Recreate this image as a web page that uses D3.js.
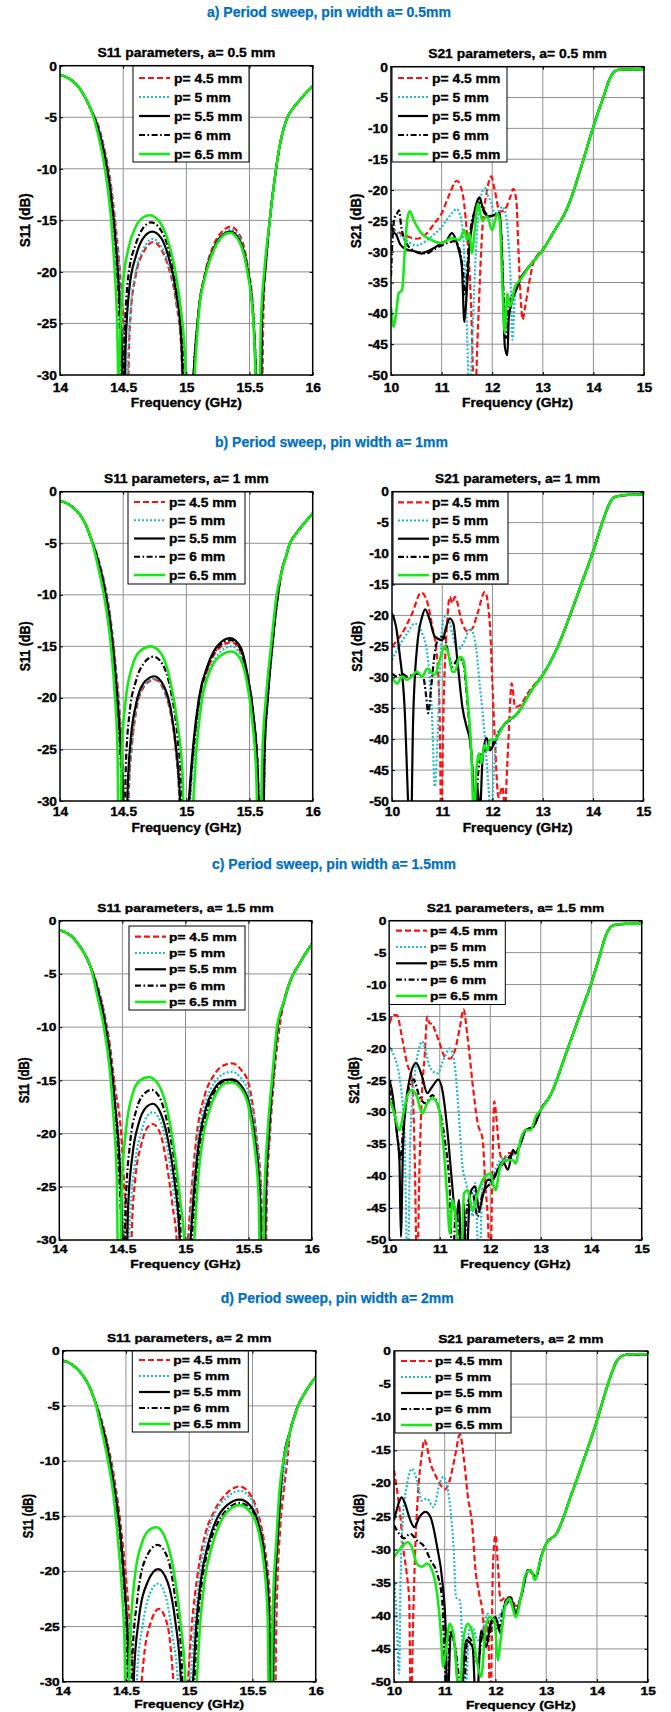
<!DOCTYPE html>
<html>
<head>
<meta charset="utf-8">
<script src="https://cdn.jsdelivr.net/npm/d3@7"></script>
<style>
  body { margin: 0; background: #fff; }
  svg text { font-family: "Liberation Sans", Arial, Helvetica, sans-serif; font-weight: bold; fill: #000; stroke: #000; stroke-width: 0.35px; }
  svg text.header { fill: #0070c0; stroke: #0070c0; stroke-width: 0.25px; }
</style>
</head>
<body>
<svg id="vis"></svg>
<script>
const W = 671;
const H = 1712;
const FONT = '"Liberation Sans", Arial, Helvetica, sans-serif';
const GRID = "#909090";

// ---- tick values and labels ----
const S11_X_TICKS = [14, 14.5, 15, 15.5, 16];
const S11_Y_TICKS = [0, -5, -10, -15, -20, -25, -30];
const S21_X_TICKS = [10, 11, 12, 13, 14, 15];
const S21_Y_TICKS = [0, -5, -10, -15, -20, -25, -30, -35, -40, -45, -50];
const PERIOD_LABELS = ["p= 4.5 mm", "p= 5 mm", "p= 5.5 mm", "p= 6 mm", "p= 6.5 mm"];
const PIN_WIDTHS = ["0.5", "1", "1.5", "2"];
const SECTION_TITLES = [
    "a) Period sweep, pin width a= 0.5mm",
    "b) Period sweep, pin width a= 1mm",
    "c) Period sweep, pin width a= 1.5mm",
    "d) Period sweep, pin width a= 2mm"
];

// ---- S11, a = 0.5 mm  [GHz, dB] ----
const s11aHead = [[14,-0.9],[14.05,-1.1],[14.1,-1.5],[14.15,-2.1],[14.2,-3.1],[14.25,-4.4]];
const s11aTail = [[15.74,-7.7],[15.77,-6.1],[15.8,-5.0],[15.84,-4.2],[15.9,-3.3],[15.95,-2.6],[16,-2.0]];
const s11a45 = [[14.3,-5.7],[14.35,-8.0],[14.4,-11.3],[14.44,-15.5],[14.48,-21],[14.51,-28],[14.53,-40],[14.545,-28],[14.56,-24],[14.6,-20.3],[14.66,-18.1],[14.74,-17.1],[14.8,-17.8],[14.86,-19.6],[14.92,-23],[14.96,-27.5],[14.99,-40],[15.07,-28],[15.1,-23.5],[15.15,-20],[15.22,-17.3],[15.3,-15.9],[15.35,-15.6],[15.42,-16.4],[15.48,-19],[15.53,-24],[15.57,-35],[15.59,-40],[15.61,-24],[15.63,-19],[15.66,-15],[15.71,-10]];
const s11a50 = [[14.3,-5.8],[14.35,-8.2],[14.4,-11.6],[14.44,-16],[14.48,-21.8],[14.505,-29],[14.525,-40],[14.54,-28],[14.56,-23.5],[14.6,-20],[14.66,-17.8],[14.735,-16.8],[14.8,-17.5],[14.86,-19.3],[14.92,-22.7],[14.96,-27],[14.99,-40],[15.07,-28],[15.1,-23.6],[15.15,-20.2],[15.22,-17.6],[15.3,-16.2],[15.35,-15.9],[15.42,-16.6],[15.48,-19.2],[15.53,-24],[15.57,-35],[15.585,-40],[15.605,-24],[15.63,-19],[15.66,-15],[15.71,-10]];
const s11a55 = [[14.3,-6.0],[14.35,-8.5],[14.4,-12.2],[14.44,-17],[14.47,-22.5],[14.49,-28],[14.505,-40],[14.52,-27],[14.55,-21.5],[14.6,-18.5],[14.66,-16.7],[14.73,-16.1],[14.8,-16.7],[14.86,-18.6],[14.92,-22],[14.96,-26.5],[15.0,-40],[15.07,-27.5],[15.1,-23.4],[15.15,-20.2],[15.22,-17.6],[15.3,-16.3],[15.35,-16.1],[15.42,-16.9],[15.48,-19.5],[15.53,-24.5],[15.565,-35],[15.58,-40],[15.6,-24],[15.63,-19],[15.66,-15],[15.71,-10]];
const s11a60 = [[14.3,-6.1],[14.35,-8.8],[14.4,-12.6],[14.44,-17.8],[14.465,-23],[14.48,-28.5],[14.495,-40],[14.51,-27],[14.54,-20.5],[14.6,-17.3],[14.66,-15.7],[14.72,-15.2],[14.79,-15.8],[14.86,-17.8],[14.92,-21.3],[14.97,-26.5],[15.005,-40],[15.07,-27.5],[15.1,-23.5],[15.15,-20.3],[15.22,-17.8],[15.3,-16.4],[15.35,-16.2],[15.42,-17],[15.48,-19.6],[15.53,-24.5],[15.565,-35],[15.575,-40],[15.6,-24],[15.63,-19],[15.66,-15],[15.71,-10]];
const s11a65 = [[14.3,-6.6],[14.35,-9.6],[14.4,-14.3],[14.43,-19.3],[14.45,-24],[14.465,-31],[14.48,-25],[14.5,-21],[14.54,-17.8],[14.6,-15.6],[14.66,-14.7],[14.71,-14.5],[14.78,-15],[14.85,-16.8],[14.91,-19.8],[14.96,-24],[14.99,-28.5],[15.015,-40],[15.075,-28],[15.1,-23.8],[15.15,-20.4],[15.22,-17.8],[15.3,-16.4],[15.345,-16.2],[15.42,-17.1],[15.48,-19.8],[15.53,-24.8],[15.56,-35],[15.57,-40],[15.59,-25],[15.62,-19.5],[15.66,-15],[15.71,-10]];

// ---- S11, a = 1 mm ----
const s11bHead = [[14,-0.9],[14.05,-1.1],[14.1,-1.5],[14.15,-2.1],[14.2,-3.1],[14.25,-4.7]];
const s11bTail = [[15.75,-8.0],[15.79,-6.2],[15.82,-5.0],[15.86,-4.2],[15.93,-3.1],[16,-2.1]];
const s11b45 = [[14.3,-6.4],[14.35,-8.8],[14.4,-12.3],[14.44,-16.8],[14.48,-23],[14.505,-30],[14.525,-42],[14.545,-29],[14.57,-24.5],[14.6,-21.5],[14.66,-19],[14.75,-18.2],[14.82,-19.2],[14.88,-21.8],[14.92,-25.5],[14.945,-30],[14.97,-42],[15.025,-30],[15.06,-24.5],[15.1,-20.5],[15.17,-17.2],[15.25,-15.3],[15.36,-14.6],[15.43,-15.6],[15.48,-18],[15.52,-21.5],[15.555,-26.5],[15.585,-42],[15.615,-25],[15.64,-20],[15.675,-15],[15.72,-10]];
const s11b50 = [[14.3,-6.4],[14.35,-8.9],[14.4,-12.4],[14.44,-17],[14.48,-23.2],[14.505,-30],[14.525,-42],[14.545,-29],[14.57,-24.3],[14.6,-21.3],[14.66,-18.9],[14.75,-18.1],[14.82,-19.1],[14.88,-21.7],[14.92,-25.3],[14.945,-30],[14.97,-42],[15.03,-30],[15.065,-24.8],[15.1,-21],[15.17,-17.8],[15.25,-15.8],[15.36,-15.0],[15.43,-15.9],[15.48,-18.3],[15.52,-21.8],[15.555,-26.8],[15.58,-42],[15.61,-25],[15.64,-20],[15.675,-15],[15.72,-10]];
const s11b55 = [[14.3,-6.6],[14.35,-9.2],[14.4,-13],[14.44,-17.8],[14.48,-24.8],[14.5,-30],[14.515,-42],[14.535,-29],[14.56,-24],[14.6,-20.7],[14.66,-18.6],[14.745,-17.9],[14.82,-18.8],[14.88,-21.3],[14.92,-25],[14.95,-30],[14.97,-42],[15.02,-30],[15.055,-24.5],[15.1,-20],[15.17,-16.8],[15.25,-14.9],[15.345,-14.2],[15.43,-15.1],[15.48,-17.5],[15.53,-21.5],[15.565,-27],[15.6,-42],[15.62,-25],[15.645,-20],[15.68,-15],[15.725,-10]];
const s11b60 = [[14.3,-6.7],[14.35,-9.4],[14.4,-13.3],[14.44,-18.3],[14.47,-23.8],[14.49,-30],[14.505,-42],[14.52,-27],[14.55,-21.5],[14.6,-18.4],[14.66,-16.7],[14.74,-16.0],[14.81,-16.7],[14.88,-19.5],[14.93,-23.8],[14.965,-30],[14.985,-42],[15.03,-29],[15.06,-24.5],[15.1,-20.3],[15.17,-17],[15.25,-15.1],[15.35,-14.4],[15.43,-15.3],[15.48,-17.7],[15.53,-21.7],[15.565,-27],[15.595,-42],[15.62,-25],[15.645,-20],[15.68,-15],[15.725,-10]];
const s11b65 = [[14.3,-7.2],[14.35,-10.2],[14.4,-14.6],[14.43,-19],[14.455,-25],[14.47,-42],[14.49,-25],[14.52,-20.2],[14.57,-17],[14.63,-15.5],[14.72,-15.0],[14.8,-15.7],[14.87,-18.2],[14.93,-22.5],[14.97,-27.5],[14.995,-42],[15.055,-30],[15.08,-25],[15.12,-20.5],[15.18,-17.6],[15.26,-16],[15.36,-15.5],[15.43,-16.3],[15.48,-18.5],[15.52,-22],[15.555,-28],[15.575,-42],[15.6,-26],[15.63,-20],[15.67,-15],[15.715,-10]];

// ---- S11, a = 1.5 mm ----
const s11cHead = [[14,-0.9],[14.05,-1.1],[14.1,-1.5],[14.15,-2.2],[14.2,-3.1],[14.25,-4.4]];
const s11cTail = [[15.78,-7.6],[15.82,-6.0],[15.855,-5.0],[15.9,-4.1],[15.95,-3.1],[16,-2.2]];
const s11c45 = [[14.3,-6.0],[14.35,-8.3],[14.4,-11.6],[14.44,-15.5],[14.49,-20],[14.515,-25],[14.535,-30],[14.555,-42],[14.575,-29],[14.6,-24.5],[14.65,-21],[14.7,-19.4],[14.74,-19.1],[14.8,-20],[14.85,-22.8],[14.9,-27],[14.93,-30],[14.96,-42],[15.02,-30],[15.05,-25],[15.09,-20],[15.15,-16.5],[15.22,-14.6],[15.3,-13.6],[15.37,-13.4],[15.44,-14],[15.5,-15.3],[15.56,-20],[15.6,-25.5],[15.625,-42],[15.645,-26],[15.67,-20],[15.7,-15],[15.745,-10]];
const s11c50 = [[14.3,-6.1],[14.35,-8.5],[14.4,-12],[14.44,-16.3],[14.48,-22],[14.51,-29],[14.535,-42],[14.56,-28],[14.6,-22.8],[14.65,-19.8],[14.7,-18.3],[14.74,-18.0],[14.8,-18.8],[14.86,-21.6],[14.91,-25.7],[14.95,-30],[14.97,-42],[15.03,-30],[15.06,-25],[15.1,-20.3],[15.16,-17],[15.23,-15.2],[15.3,-14.4],[15.37,-14.2],[15.44,-14.8],[15.5,-16.2],[15.56,-20.3],[15.6,-26],[15.62,-42],[15.64,-26],[15.665,-20],[15.695,-15],[15.735,-10]];
const s11c55 = [[14.3,-6.3],[14.35,-8.8],[14.4,-12.5],[14.44,-17],[14.48,-23],[14.5,-29],[14.52,-42],[14.545,-27],[14.58,-22],[14.63,-19],[14.69,-17.5],[14.74,-17.2],[14.8,-18],[14.86,-20.5],[14.91,-24.2],[14.955,-30],[14.975,-42],[15.04,-30],[15.07,-25],[15.11,-20.5],[15.17,-17.3],[15.24,-15.6],[15.3,-15.0],[15.37,-14.9],[15.44,-15.5],[15.5,-17],[15.55,-20.5],[15.59,-26],[15.615,-42],[15.635,-26],[15.66,-20],[15.69,-15],[15.73,-10]];
const s11c60 = [[14.3,-6.4],[14.35,-9],[14.4,-12.8],[14.44,-17.5],[14.47,-23],[14.49,-29],[14.505,-42],[14.525,-27],[14.56,-21],[14.61,-17.8],[14.67,-16.3],[14.73,-15.9],[14.79,-16.5],[14.86,-19.2],[14.92,-23.5],[14.96,-29],[14.985,-42],[15.05,-30],[15.08,-25],[15.12,-20.7],[15.18,-17.5],[15.25,-15.7],[15.3,-15.1],[15.37,-15.0],[15.44,-15.6],[15.5,-17.2],[15.55,-20.7],[15.59,-26],[15.61,-42],[15.635,-26],[15.66,-20],[15.69,-15],[15.73,-10]];
const s11c65 = [[14.3,-7.0],[14.35,-9.8],[14.4,-14],[14.43,-18.5],[14.455,-24],[14.475,-42],[14.495,-25],[14.53,-19.5],[14.58,-16.3],[14.64,-15],[14.71,-14.7],[14.78,-15.3],[14.85,-17.5],[14.91,-21.5],[14.96,-26.5],[14.99,-30],[15.01,-42],[15.07,-30],[15.095,-25],[15.13,-21],[15.19,-17.8],[15.26,-15.9],[15.31,-15.3],[15.37,-15.2],[15.44,-15.8],[15.5,-17.5],[15.545,-21],[15.58,-26],[15.6,-42],[15.625,-26],[15.65,-20],[15.685,-15],[15.725,-10]];

// ---- S11, a = 2 mm ----
const s11dHead = [[14,-0.9],[14.05,-1.1],[14.1,-1.5],[14.15,-2.1],[14.2,-3.0],[14.25,-4.4]];
const s11dTail = [[15.8,-7.2],[15.83,-6.0],[15.86,-5.0],[15.91,-3.9],[15.96,-3.0],[16,-2.4]];
const s11d45 = [[14.3,-6.0],[14.35,-8.2],[14.4,-11],[14.45,-15],[14.5,-20.5],[14.54,-26.5],[14.57,-33],[14.59,-42],[14.615,-32],[14.64,-28],[14.7,-24.5],[14.76,-23.4],[14.81,-24.2],[14.85,-26.5],[14.875,-30],[14.93,-42],[14.99,-30],[15.02,-25],[15.07,-20],[15.13,-16.5],[15.2,-14.5],[15.3,-12.9],[15.4,-12.3],[15.48,-13],[15.55,-15],[15.6,-18],[15.64,-23],[15.665,-42],[15.69,-24],[15.72,-16],[15.75,-12.5],[15.775,-10]];
const s11d50 = [[14.3,-6.1],[14.35,-8.4],[14.4,-11.4],[14.45,-15.6],[14.49,-21],[14.53,-28],[14.56,-42],[14.59,-29],[14.63,-25],[14.69,-22],[14.755,-21.1],[14.82,-22.5],[14.87,-26],[14.91,-30],[14.95,-42],[15.01,-30],[15.04,-25],[15.08,-20.5],[15.14,-16.8],[15.2,-14.8],[15.3,-13.3],[15.4,-12.7],[15.48,-13.3],[15.55,-15.4],[15.6,-18.5],[15.635,-23],[15.655,-42],[15.68,-23],[15.71,-16],[15.74,-12.2],[15.765,-10]];
const s11d55 = [[14.3,-6.3],[14.35,-8.6],[14.4,-11.8],[14.45,-16],[14.49,-21.5],[14.52,-28],[14.54,-42],[14.565,-29],[14.6,-24.5],[14.67,-21],[14.755,-19.8],[14.83,-21],[14.89,-24.5],[14.935,-30],[14.96,-42],[15.03,-30],[15.055,-25],[15.09,-21],[15.15,-17.5],[15.22,-15.2],[15.3,-14],[15.4,-13.5],[15.48,-14],[15.55,-15.8],[15.6,-19],[15.63,-23.5],[15.65,-42],[15.67,-24],[15.7,-17],[15.725,-12.5],[15.745,-10]];
const s11d60 = [[14.3,-6.4],[14.35,-8.8],[14.4,-12.1],[14.45,-16.5],[14.48,-20.5],[14.51,-27],[14.53,-42],[14.55,-28],[14.59,-22.5],[14.65,-19],[14.75,-17.6],[14.83,-18.8],[14.89,-22.5],[14.94,-28],[14.97,-42],[15.04,-30],[15.065,-25],[15.1,-21],[15.16,-17.6],[15.23,-15.5],[15.3,-14.4],[15.4,-13.8],[15.48,-14.3],[15.55,-16],[15.6,-19.2],[15.63,-23.5],[15.645,-42],[15.665,-24],[15.695,-17],[15.72,-12.5],[15.745,-10]];
const s11d65 = [[14.3,-6.8],[14.35,-9.5],[14.4,-13],[14.44,-17.5],[14.47,-22],[14.49,-27],[14.505,-42],[14.53,-27],[14.57,-20.5],[14.63,-17.3],[14.69,-16.2],[14.74,-16.0],[14.8,-16.7],[14.87,-19.5],[14.93,-24.5],[14.97,-30],[14.985,-42],[15.06,-30],[15.085,-25],[15.12,-21],[15.18,-17.7],[15.25,-15.5],[15.32,-14.4],[15.4,-14.0],[15.48,-14.6],[15.55,-16.5],[15.59,-19.3],[15.62,-24],[15.64,-42],[15.66,-24],[15.69,-17],[15.715,-12.5],[15.745,-10]];

// ---- S21, a = 0.5 mm ----
const s21aTail = [[12.55,-34.6],[12.75,-32.2],[13,-29.7],[13.2,-27],[13.5,-22.6],[13.75,-16.5],[13.9,-12.4],[14,-9.7],[14.1,-7.2],[14.2,-4.9],[14.3,-2.4],[14.4,-0.9],[14.5,-0.5],[14.7,-0.45],[15,-0.4]];
const s21a45 = [[10,-26],[10.1,-26.6],[10.2,-27.1],[10.35,-27.6],[10.5,-27.9],[10.7,-27.1],[10.85,-25.5],[11,-23.8],[11.15,-20.8],[11.3,-18.5],[11.4,-20],[11.5,-27],[11.58,-38],[11.65,-55],[11.72,-42],[11.8,-27],[11.9,-20],[11.98,-17.8],[12.05,-20],[12.15,-23.5],[12.25,-23.2],[12.35,-21.3],[12.42,-19.8],[12.48,-22],[12.52,-30],[12.57,-38.5],[12.6,-41],[12.65,-39],[12.72,-35.5],[12.8,-32.2],[12.9,-30.5],[13,-29.7]];
const s21a50 = [[10,-26],[10.1,-26.8],[10.25,-27.8],[10.5,-29],[10.7,-28.2],[10.85,-27.2],[11,-26],[11.15,-24.3],[11.3,-23.1],[11.38,-24.5],[11.43,-28],[11.47,-35],[11.51,-45],[11.55,-55],[11.6,-46],[11.65,-35],[11.7,-27],[11.76,-22],[11.82,-20],[11.86,-19.7],[11.92,-21],[11.97,-21.8],[12.05,-23.8],[12.12,-23.5],[12.2,-22.7],[12.27,-24],[12.32,-28],[12.36,-34],[12.4,-44.3],[12.45,-37],[12.5,-35.5]];
const s21a55 = [[10,-25.5],[10.05,-26.8],[10.1,-27.2],[10.18,-28.8],[10.3,-29.6],[10.45,-29.9],[10.6,-30.3],[10.7,-30],[10.85,-29.4],[11,-28.6],[11.1,-28.2],[11.2,-27],[11.27,-27.8],[11.33,-29.5],[11.4,-32.4],[11.45,-41.4],[11.5,-36.2],[11.55,-29.2],[11.62,-24.9],[11.7,-21.9],[11.75,-21.2],[11.8,-22.5],[11.85,-23.8],[11.95,-24.3],[12.05,-24],[12.15,-23.8],[12.2,-32.4],[12.25,-45.4],[12.3,-46.8],[12.33,-40.5],[12.4,-37.8],[12.5,-35.7]];
const s21a60 = [[10,-34],[10.03,-28],[10.07,-24.5],[10.12,-23.8],[10.16,-23.3],[10.2,-25.8],[10.3,-28.6],[10.45,-29.8],[10.6,-30.2],[10.7,-30.3],[10.85,-29.6],[11,-29],[11.15,-28.5],[11.25,-28.3],[11.35,-29.5],[11.42,-33],[11.47,-37],[11.52,-31],[11.58,-26],[11.65,-23.5],[11.72,-22],[11.8,-22.8],[11.9,-24],[12,-24.2],[12.1,-23.9],[12.17,-26],[12.22,-36],[12.27,-44],[12.32,-39],[12.4,-37],[12.5,-35.5]];
const s21a65 = [[10,-39],[10.05,-42.2],[10.1,-40],[10.15,-36.8],[10.22,-36.2],[10.27,-30.3],[10.32,-24.9],[10.37,-23.4],[10.45,-24.9],[10.6,-27],[10.8,-28.1],[11,-28.6],[11.2,-27.8],[11.35,-28.1],[11.45,-26.5],[11.5,-28.1],[11.55,-27],[11.6,-30.3],[11.65,-27],[11.72,-22.2],[11.8,-24.9],[11.9,-24.3],[12,-26.5],[12.1,-23.8],[12.15,-24.9],[12.2,-35.1],[12.25,-43.2],[12.3,-36.8],[12.35,-38.9],[12.45,-35.7],[12.55,-34.6]];

// ---- S21, a = 1 mm ----
const s21bTail = [[12.2,-38],[12.5,-35.8],[12.8,-31.8],[13,-29.6],[13.3,-25],[13.6,-18.7],[13.8,-14.2],[14,-9.7],[14.1,-7.1],[14.2,-4.6],[14.3,-2.4],[14.4,-1.0],[14.5,-0.7],[14.7,-0.5],[15,-0.45]];
const s21b45 = [[10,-25],[10.2,-22.9],[10.4,-19.7],[10.58,-16.3],[10.7,-17.8],[10.8,-21.8],[10.9,-27.2],[10.95,-37],[10.98,-55],[11.02,-37],[11.1,-20.7],[11.15,-17],[11.2,-18],[11.25,-17],[11.4,-21.3],[11.5,-22.6],[11.6,-22.1],[11.7,-19.7],[11.85,-16.2],[11.95,-21.8],[12,-31.5],[12.05,-40.7],[12.12,-49.4],[12.2,-47.7],[12.25,-52],[12.28,-46.6],[12.32,-39.6],[12.38,-31],[12.45,-34.8],[12.55,-34.5],[12.7,-32.6],[12.85,-31],[13,-29.6]];
const s21b50 = [[10,-27.2],[10.1,-25.6],[10.3,-22.9],[10.45,-21.3],[10.6,-22.9],[10.7,-26.1],[10.8,-36.9],[10.85,-47.7],[10.9,-41.2],[10.95,-29.4],[11.02,-20.7],[11.1,-19.9],[11.2,-22.9],[11.3,-25.6],[11.45,-24],[11.55,-22.1],[11.65,-24],[11.75,-31.5],[11.85,-40.1],[11.92,-47.7],[11.97,-53],[12.03,-45],[12.1,-39.1],[12.2,-38]];
const s21b55 = [[10,-19.7],[10.08,-21.8],[10.15,-26.1],[10.25,-34.8],[10.33,-52],[10.37,-58],[10.42,-37],[10.5,-25],[10.6,-20.2],[10.66,-19],[10.75,-20.7],[10.85,-23.4],[11,-24],[11.08,-21.8],[11.15,-20.5],[11.22,-21.3],[11.3,-27.2],[11.4,-34.8],[11.5,-38.5],[11.55,-40.1],[11.6,-45],[11.65,-53],[11.7,-47.7],[11.75,-52],[11.8,-43.4],[11.88,-39.8],[11.95,-41.8],[12,-41.2],[12.1,-39.6],[12.2,-38]];
const s21b60 = [[10,-29.4],[10.1,-29.9],[10.2,-29.4],[10.3,-29.9],[10.5,-29.4],[10.62,-29.9],[10.68,-33.1],[10.72,-35.8],[10.78,-31.5],[10.85,-26.1],[10.95,-23.4],[11.05,-23.7],[11.12,-26.1],[11.2,-28.3],[11.3,-27.2],[11.4,-27.2],[11.5,-34],[11.6,-45],[11.65,-53],[11.72,-45],[11.8,-42],[11.95,-41.5],[12.05,-40],[12.2,-38]];
const s21b65 = [[10,-29.9],[10.1,-31],[10.2,-29.9],[10.3,-30.4],[10.5,-29.1],[10.6,-29.9],[10.7,-28.6],[10.85,-29.6],[10.95,-27.2],[11.05,-25],[11.12,-26.1],[11.2,-29.1],[11.25,-29.1],[11.35,-26.7],[11.42,-27.2],[11.5,-33.1],[11.58,-42.3],[11.63,-53],[11.68,-45],[11.73,-42.3],[11.78,-43.9],[11.83,-41],[11.9,-41.8],[11.95,-40.1],[12.05,-40.1],[12.15,-38.8],[12.2,-38]];

// ---- S21, a = 1.5 mm ----
const s21cTail = [[12.5,-36.4],[12.6,-34.9],[12.7,-32.8],[12.85,-32.3],[13,-29.6],[13.2,-27.2],[13.5,-20.8],[13.75,-15.3],[14,-9.8],[14.15,-6],[14.3,-2.1],[14.4,-0.9],[14.5,-0.6],[14.7,-0.5],[15,-0.5]];
const s21c45 = [[10,-16.1],[10.1,-14.8],[10.15,-14.8],[10.25,-18.2],[10.35,-22.3],[10.45,-24.9],[10.5,-35.9],[10.55,-55],[10.6,-38],[10.65,-26.5],[10.7,-21.3],[10.75,-15],[10.8,-16.1],[10.85,-16.1],[10.9,-17.1],[11,-19.2],[11.1,-21.3],[11.2,-21.6],[11.3,-20.3],[11.4,-16.6],[11.47,-13.9],[11.55,-18.2],[11.65,-25.5],[11.75,-31.7],[11.85,-34.3],[11.9,-41.1],[11.95,-46.3],[12,-55],[12.05,-35.9],[12.08,-28.3],[12.12,-30.7],[12.18,-35.9],[12.25,-37.5],[12.35,-36.4]];
const s21c50 = [[10,-19.7],[10.1,-21.3],[10.2,-24.4],[10.3,-33.3],[10.36,-55],[10.42,-33.3],[10.5,-24.4],[10.58,-20.3],[10.65,-18.9],[10.72,-20.3],[10.8,-22.9],[10.95,-23.9],[11.1,-21.3],[11.2,-20],[11.3,-22.9],[11.38,-30.7],[11.45,-38.5],[11.52,-41.1],[11.6,-43.7],[11.65,-46.3],[11.7,-41.1],[11.78,-55],[11.85,-41.1],[11.92,-39.8],[12,-41.1],[12.1,-39],[12.2,-37.5]];
const s21c55 = [[10,-24.9],[10.05,-26.5],[10.15,-33.3],[10.2,-37.5],[10.23,-49.5],[10.27,-35.9],[10.33,-28.6],[10.4,-24.9],[10.53,-22.3],[10.65,-24.4],[10.75,-27],[10.85,-26],[10.97,-24.9],[11.05,-26.5],[11.15,-32.8],[11.22,-39],[11.28,-44.3],[11.33,-46.9],[11.38,-43.7],[11.43,-55],[11.48,-44.3],[11.52,-55],[11.6,-42.7],[11.7,-41.6],[11.78,-45.3],[11.85,-43.2],[11.95,-40.6],[12.05,-40.6],[12.15,-39],[12.25,-37.7],[12.35,-39],[12.45,-35.9]];
const s21c60 = [[10,-26.5],[10.1,-30],[10.18,-35],[10.22,-37.5],[10.27,-33],[10.35,-27.5],[10.48,-24.9],[10.6,-27.6],[10.72,-28.6],[10.85,-27.3],[10.95,-28.6],[11.1,-34.4],[11.2,-42.7],[11.25,-55],[11.32,-45.3],[11.45,-55],[11.55,-44.3],[11.65,-42.7],[11.75,-46.3],[11.85,-42.7],[12,-41.1],[12.15,-39],[12.3,-37.7],[12.45,-36.5]];
const s21c65 = [[10,-27.8],[10.1,-30.2],[10.2,-32.8],[10.28,-30.2],[10.35,-27.6],[10.45,-26.5],[10.55,-27.6],[10.65,-30.2],[10.75,-28.6],[10.85,-27.8],[10.95,-28.6],[11,-30.2],[11.08,-35.9],[11.15,-43.7],[11.2,-49],[11.25,-43.7],[11.3,-45.3],[11.35,-49.5],[11.42,-55],[11.48,-42.7],[11.55,-42.2],[11.65,-45.3],[11.75,-42.7],[11.85,-40.6],[12,-39.6],[12.1,-42.2],[12.2,-38.5],[12.3,-37.5],[12.45,-37.5],[12.5,-38],[12.6,-34.3],[12.7,-32.8],[12.8,-32.8],[12.9,-30.7],[13,-29.6]];

// ---- S21, a = 2 mm ----
const s21dTail = [[12.5,-37.2],[12.65,-33.1],[12.8,-34.1],[12.9,-31.1],[13,-29.1],[13.2,-27.6],[13.5,-21.6],[13.75,-16.2],[14,-10.5],[14.2,-5.4],[14.4,-1.4],[14.55,-0.6],[14.7,-0.5],[15,-0.5]];
const s21d45 = [[10,-18],[10.05,-20.5],[10.12,-24.6],[10.18,-29.6],[10.25,-33.6],[10.3,-37.7],[10.33,-55],[10.38,-39.7],[10.42,-29.6],[10.47,-22],[10.55,-15.5],[10.6,-13.4],[10.65,-14.5],[10.72,-17],[10.8,-18.5],[10.9,-20],[11,-20.9],[11.1,-19.5],[11.2,-16],[11.3,-12.6],[11.38,-16.5],[11.45,-21.6],[11.55,-27.1],[11.6,-32.6],[11.68,-36.7],[11.75,-39.7],[11.8,-44.7],[11.85,-40.7],[11.9,-55],[11.95,-32.6],[12,-27.8],[12.05,-32.6],[12.1,-37.7],[12.2,-37.2],[12.3,-37.2],[12.4,-38.5]];
const s21d50 = [[10,-34.6],[10.05,-39.7],[10.1,-48.7],[10.13,-34.6],[10.18,-24.6],[10.25,-20.5],[10.35,-17.8],[10.45,-19.5],[10.55,-22.6],[10.65,-22.3],[10.78,-23.6],[10.9,-20],[10.97,-19],[11.05,-20.5],[11.12,-24.6],[11.18,-30.6],[11.22,-37.2],[11.3,-37.7],[11.35,-44.7],[11.4,-55],[11.48,-42.2],[11.55,-41.7],[11.65,-43.7],[11.75,-42.2],[11.85,-39.7],[11.95,-42.2],[12.05,-40.7],[12.15,-38.7],[12.25,-37.7],[12.4,-39]];
const s21d55 = [[10,-25.6],[10.05,-24.1],[10.1,-22.8],[10.15,-22.1],[10.22,-23.1],[10.3,-25.1],[10.4,-26.6],[10.5,-25.1],[10.62,-24.3],[10.72,-25.1],[10.85,-29.6],[10.95,-34.6],[11.02,-42.2],[11.05,-55],[11.12,-42.7],[11.2,-44.7],[11.3,-55],[11.42,-43.7],[11.55,-44.7],[11.62,-55],[11.72,-42.2],[11.82,-44.7],[11.9,-41.2],[12,-40.2],[12.1,-42.7],[12.2,-37.7],[12.3,-37.2],[12.4,-39.7]];
const s21d60 = [[10,-26.3],[10.1,-27.6],[10.2,-28.3],[10.32,-27.6],[10.45,-28.6],[10.6,-29.6],[10.72,-31.6],[10.85,-33.6],[10.95,-37.7],[11,-47.2],[11.05,-55],[11.1,-42.2],[11.25,-47.2],[11.35,-55],[11.45,-43.2],[11.55,-44.2],[11.65,-47.2],[11.75,-42.7],[11.85,-43.7],[11.95,-40.7],[12.05,-42.2],[12.15,-39.2],[12.3,-37.7],[12.4,-39.5]];
const s21d65 = [[10,-31.1],[10.05,-30.6],[10.15,-29.6],[10.27,-28.9],[10.35,-29.6],[10.45,-32.1],[10.55,-32.6],[10.65,-32.1],[10.75,-33.1],[10.85,-36.7],[10.92,-42.2],[10.97,-47.7],[11.03,-44.7],[11.1,-41.2],[11.17,-42.7],[11.25,-49.7],[11.3,-53],[11.35,-44.7],[11.45,-41.2],[11.55,-42.7],[11.62,-46.2],[11.72,-49.2],[11.8,-42.2],[11.88,-40.2],[11.98,-40.7],[12.05,-46.7],[12.1,-43.7],[12.2,-38.2],[12.28,-37.4],[12.4,-40.2],[12.5,-37.2],[12.6,-33.6],[12.7,-33.1],[12.78,-34.6],[12.85,-32.6],[13,-29.1]];

// line styles, in legend order
const STYLES = [
    {color: "#ff1010", dash: "6,3", width: 2.2},
    {color: "#1cbccc", dash: "2,2", width: 2.2},
    {color: "#000000", dash: null, width: 2.2},
    {color: "#000000", dash: "6,2.5,1.6,2.5", width: 2.2},
    {color: "#16ea16", dash: null, width: 2.6}
];

// where each panel sits on the page
const LAYOUT = [
    {id: "a11", box: [60, 65.7, 312.7, 375], fs: 13.5, sx: 1.03, tickPad: 7, xlabOff: 31.5,
     leg: {x: 133, y: 66, w: 116, h: 96, row0: 78, gap: 19, l0: 139, l1: 170, tx: 174}},
    {id: "a21", box: [391, 66.7, 644, 375], fs: 13.5, sx: 1.03, tickPad: 7, xlabOff: 31.5,
     leg: {x: 392, y: 67, w: 115, h: 95, row0: 78, gap: 19, l0: 398, l1: 428, tx: 432}},
    {id: "b11", box: [60, 491.7, 312.7, 801], fs: 12.5, sx: 1.1, tickPad: 6, xlabOff: 30.5,
     leg: {x: 128, y: 492, w: 117, h: 92, row0: 502, gap: 18.25, l0: 134, l1: 165, tx: 169}},
    {id: "b21", box: [392, 491.7, 643.3, 801], fs: 12.5, sx: 1.1, tickPad: 6, xlabOff: 30.5,
     leg: {x: 393, y: 492, w: 115, h: 92, row0: 502.3, gap: 18.2, l0: 398, l1: 429, tx: 432}},
    {id: "c11", box: [59.3, 920.7, 311.7, 1240], fs: 11.5, sx: 1.2, tickPad: 5, xlabOff: 27.7,
     leg: {x: 129, y: 926, w: 116, h: 84, row0: 936.7, gap: 16.3, l0: 135, l1: 166, tx: 169}},
    {id: "c21", box: [389.3, 920.7, 641.7, 1240], fs: 11.5, sx: 1.2, tickPad: 5, xlabOff: 27.7,
     leg: {x: 389.3, y: 921, w: 116, h: 83.5, row0: 930.7, gap: 16.3, l0: 396, l1: 427, tx: 430}},
    {id: "d11", box: [62.7, 1350.7, 315.7, 1681.7], fs: 11, sx: 1.25, tickPad: 5.5, xlabOff: 26.6,
     leg: {x: 132.3, y: 1351, w: 116, h: 81, row0: 1360, gap: 16, l0: 139, l1: 170, tx: 173.3}},
    {id: "d21", box: [394, 1351, 647.7, 1682], fs: 11, sx: 1.25, tickPad: 5.5, xlabOff: 26.6,
     leg: {x: 395, y: 1351, w: 116, h: 82, row0: 1361, gap: 16, l0: 401, l1: 432, tx: 435}}
];
const HEADER_POS = [[207, 16.7], [215, 446.7], [212, 869], [220.7, 1303.3]];

const PANEL_DATA = [
    {kind: "S11", head: s11aHead, tail: s11aTail, mids: [s11a45, s11a50, s11a55, s11a60, s11a65]},
    {kind: "S21", head: [], tail: s21aTail, mids: [s21a45, s21a50, s21a55, s21a60, s21a65]},
    {kind: "S11", head: s11bHead, tail: s11bTail, mids: [s11b45, s11b50, s11b55, s11b60, s11b65]},
    {kind: "S21", head: [], tail: s21bTail, mids: [s21b45, s21b50, s21b55, s21b60, s21b65]},
    {kind: "S11", head: s11cHead, tail: s11cTail, mids: [s11c45, s11c50, s11c55, s11c60, s11c65]},
    {kind: "S21", head: [], tail: s21cTail, mids: [s21c45, s21c50, s21c55, s21c60, s21c65]},
    {kind: "S11", head: s11dHead, tail: s11dTail, mids: [s11d45, s11d50, s11d55, s11d60, s11d65]},
    {kind: "S21", head: [], tail: s21dTail, mids: [s21d45, s21d50, s21d55, s21d60, s21d65]}
];

const svg = d3.select("#vis")
    .attr("width", W)
    .attr("height", H)
    .attr("viewBox", `0 0 ${W} ${H}`);

// join the shared start / end of a panel onto one series
function build(head, mid, tail) {
    const f0 = mid[0][0];
    const f1 = mid[mid.length - 1][0];
    return head.filter(d => d[0] < f0).concat(mid, tail.filter(d => d[0] > f1));
}

function applyStyle(sel, s) {
    sel.attr("fill", "none")
        .attr("stroke", s.color)
        .attr("stroke-width", s.width)
        .attr("stroke-dasharray", s.dash)
        .attr("stroke-linejoin", "round");
}

function drawPanel(lay, data, widthIdx) {
    const [x0, y0, x1, y1] = lay.box;
    const isS11 = data.kind === "S11";
    const xTicks = isS11 ? S11_X_TICKS : S21_X_TICKS;
    const yTicks = isS11 ? S11_Y_TICKS : S21_Y_TICKS;
    const x = d3.scaleLinear().domain(d3.extent(xTicks)).range([x0, x1]);
    const y = d3.scaleLinear().domain(d3.extent(yTicks)).range([y1, y0]);
    const g = svg.append("g");
    const fmt = d => String(d);

    // grid
    g.append("g").selectAll("line").data(xTicks.slice(1, -1)).join("line")
        .attr("x1", d => x(d)).attr("x2", d => x(d))
        .attr("y1", y0).attr("y2", y1)
        .attr("stroke", GRID).attr("stroke-width", 1);
    g.append("g").selectAll("line").data(yTicks.slice(1, -1)).join("line")
        .attr("y1", d => y(d)).attr("y2", d => y(d))
        .attr("x1", x0).attr("x2", x1)
        .attr("stroke", GRID).attr("stroke-width", 1);

    // curves
    const clipId = "clip-" + lay.id;
    svg.append("clipPath").attr("id", clipId)
        .append("rect")
        .attr("x", x0).attr("y", y0)
        .attr("width", x1 - x0).attr("height", y1 - y0);
    const line = d3.line()
        .x(d => x(d[0]))
        .y(d => y(d[1]))
        .curve(d3.curveMonotoneX);
    const series = data.mids.map(m => build(data.head, m, data.tail));
    g.append("g").attr("clip-path", `url(#${clipId})`)
        .selectAll("path").data(series).join("path")
        .attr("d", line)
        .each(function(d, i) { applyStyle(d3.select(this), STYLES[i]); });

    // axes, ticks pointing inward
    const styleAxis = sel => {
        sel.select(".domain").remove();
        sel.attr("font-size", lay.fs).attr("font-family", FONT).attr("font-weight", "bold");
        sel.selectAll(".tick line").attr("stroke", "#000");
    };
    const gB = g.append("g").attr("transform", `translate(0,${y1})`)
        .call(d3.axisBottom(x).tickValues(xTicks).tickFormat(fmt)
            .tickSizeInner(-3).tickSizeOuter(0).tickPadding(lay.tickPad));
    styleAxis(gB);
    gB.selectAll("text").attr("transform", `scale(${lay.sx},1)`);

    const gL = g.append("g").attr("transform", `translate(${x0},0)`)
        .call(d3.axisLeft(y).tickValues(yTicks).tickFormat(fmt)
            .tickSizeInner(-3).tickSizeOuter(0).tickPadding(3));
    styleAxis(gL);
    gL.selectAll("text").attr("x", -3 / lay.sx).attr("transform", `scale(${lay.sx},1)`);

    const gT = g.append("g").attr("transform", `translate(0,${y0})`)
        .call(d3.axisTop(x).tickValues(xTicks).tickFormat(() => "")
            .tickSizeInner(-3).tickSizeOuter(0));
    styleAxis(gT);
    const gR = g.append("g").attr("transform", `translate(${x1},0)`)
        .call(d3.axisRight(y).tickValues(yTicks).tickFormat(() => "")
            .tickSizeInner(-3).tickSizeOuter(0));
    styleAxis(gR);

    g.append("rect")
        .attr("x", x0).attr("y", y0)
        .attr("width", x1 - x0).attr("height", y1 - y0)
        .attr("fill", "none").attr("stroke", "#000").attr("stroke-width", 1.5);

    // legend
    const L = lay.leg;
    const lg = g.append("g");
    lg.append("rect")
        .attr("x", L.x).attr("y", L.y).attr("width", L.w).attr("height", L.h)
        .attr("fill", "#fff").attr("stroke", "#000").attr("stroke-width", 1);
    PERIOD_LABELS.forEach((label, i) => {
        const ry = L.row0 + i * L.gap;
        applyStyle(lg.append("line")
            .attr("x1", L.l0).attr("x2", L.l1)
            .attr("y1", ry).attr("y2", ry), STYLES[i]);
        lg.append("text")
            .attr("transform", `translate(${L.tx},${ry + 0.36 * lay.fs}) scale(${lay.sx},1)`)
            .style("font-size", lay.fs + "px")
            .text(label);
    });

    // titles and axis labels
    const cx = (x0 + x1) / 2;
    g.append("text")
        .attr("transform", `translate(${cx},${y0 - 8.5}) scale(${lay.sx},1)`)
        .attr("text-anchor", "middle")
        .style("font-size", lay.fs + "px")
        .text(`${data.kind} parameters, a= ${PIN_WIDTHS[widthIdx]} mm`);
    g.append("text")
        .attr("transform", `translate(${cx},${y1 + lay.xlabOff}) scale(${lay.sx},1)`)
        .attr("text-anchor", "middle")
        .style("font-size", lay.fs + "px")
        .text("Frequency (GHz)");
    g.append("text")
        .attr("transform", `translate(${x0 - 30},${(y0 + y1) / 2}) rotate(-90) scale(1,${lay.sx})`)
        .attr("text-anchor", "middle")
        .style("font-size", lay.fs + "px")
        .text(`${data.kind} (dB)`);
}

function main() {
    SECTION_TITLES.forEach((t, i) => {
        svg.append("text")
            .attr("class", "header")
            .attr("x", HEADER_POS[i][0])
            .attr("y", HEADER_POS[i][1])
            .style("font-size", "14px")
            .text(t);
    });
    LAYOUT.forEach((lay, i) => drawPanel(lay, PANEL_DATA[i], Math.floor(i / 2)));
}

main();
</script>
</body>
</html>
